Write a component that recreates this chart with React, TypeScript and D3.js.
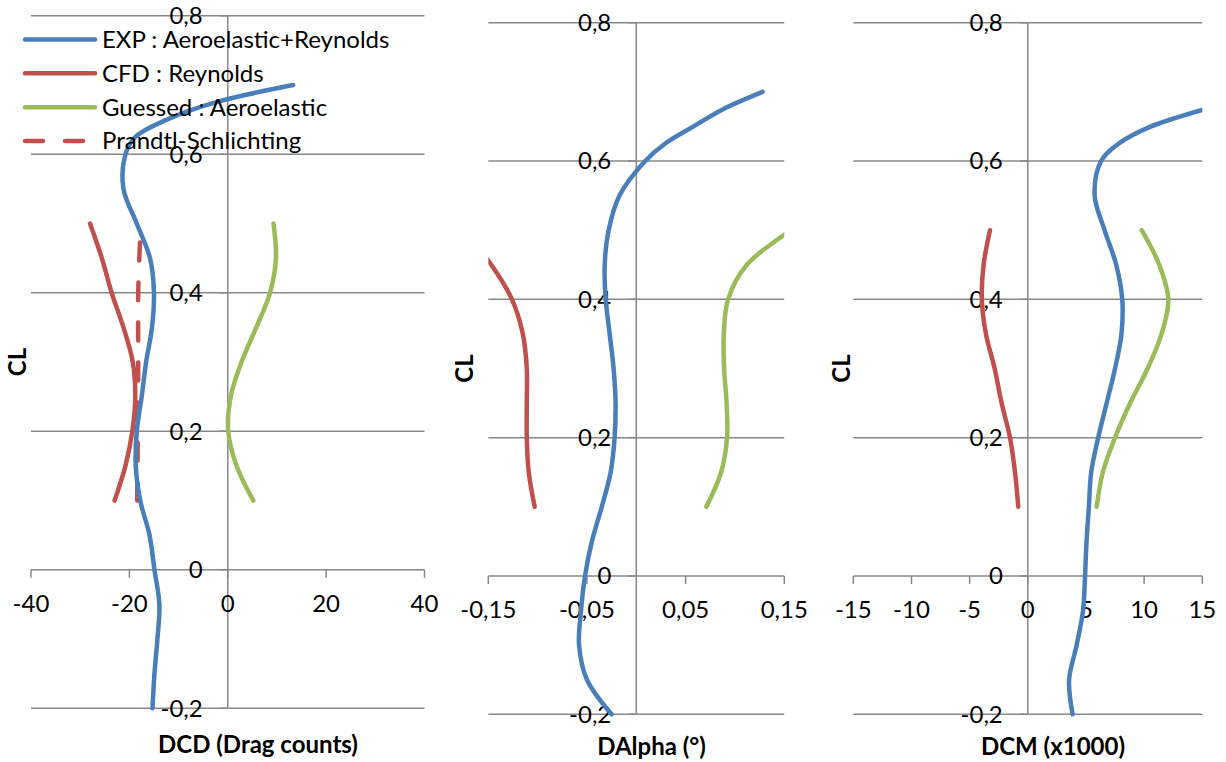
import React from 'react'
import * as d3 from 'd3'

// CL stations used for each curve
const clExp = [-0.2, -0.15, -0.1, -0.05, 0, 0.05, 0.1, 0.15, 0.2, 0.25, 0.3, 0.35, 0.4, 0.45, 0.5, 0.55, 0.6, 0.625, 0.65, 0.675, 0.7]
const clShort = [0.1, 0.15, 0.2, 0.25, 0.3, 0.35, 0.4, 0.45, 0.5]
const clPrandtl = [0.1, 0.2, 0.3, 0.4, 0.48]

// DCD (drag counts)
const dcdExp = [-15.3, -14.9, -14.3, -13.9, -14.9, -15.9, -17.8, -18.7, -18.5, -17.5, -16.6, -15.4, -15.0, -15.8, -18.5, -21.2, -20.8, -18.8, -12.4, -2.5, 13.3]
const dcdCfd = [-23.0, -20.8, -19.4, -18.8, -19.3, -21.2, -23.6, -25.6, -28.0]
const dcdGuess = [5.2, 1.8, 0.1, 0.6, 2.8, 5.8, 8.6, 9.8, 9.3]
const dcdPrandtl = [-18.4, -18.3, -18.2, -18.2, -17.8]

// DAlpha (deg)
const daExp = [-0.025, -0.05, -0.058, -0.056, -0.052, -0.045, -0.035, -0.026, -0.022, -0.021, -0.023, -0.027, -0.031, -0.032, -0.028, -0.017, 0.009, 0.029, 0.058, 0.088, 0.128]
const daCfd = [-0.103, -0.109, -0.111, -0.111, -0.111, -0.115, -0.126, -0.147, -0.175]
const daGuess = [0.071, 0.086, 0.092, 0.0915, 0.089, 0.0887, 0.093, 0.112, 0.157]

// DCM (x1000)
const dcmExp = [3.85, 3.55, 4.2, 4.75, 4.92, 5.05, 5.25, 5.45, 6.05, 6.78, 7.5, 8.05, 8.12, 7.6, 6.6, 5.75, 6.3, 7.8, 10.6, 15.2, 20.0]
const dcmCfd = [-0.82, -1.1, -1.53, -2.25, -2.85, -3.6, -3.95, -3.8, -3.25]
const dcmGuess = [5.92, 6.45, 7.5, 8.8, 10.3, 11.5, 12.08, 11.3, 9.79]

const clTicks = [-0.2, 0, 0.2, 0.4, 0.6, 0.8]
const dcdTicks = [-40, -20, 0, 20, 40]
const daTicks = [-0.15, -0.05, 0.05, 0.15]
const dcmTicks = [-15, -10, -5, 0, 5, 10, 15]

const legendNames = ['EXP : Aeroelastic+Reynolds', 'CFD : Reynolds', 'Guessed : Aeroelastic', 'Prandtl-Schlichting']

const BLUE = '#4a7ebb'
const RED = '#c0504d'
const GREEN = '#9bbb59'
const GRID = '#888888'
const FONT = 'Lato, "Open Sans", sans-serif'
const FS = 24

const fmt = (v: number) => String(+v.toFixed(3)).replace('.', ',')

type Series = { cl: number[], x: number[], color: string, dash?: string }

type PanelProps = {
  id: string
  left: number
  right: number
  top: number
  bottom: number
  xDomain: [number, number]
  xTicks: number[]
  series: Series[]
  title: string
  titleX: number
  titleY: number
  clX: number
}

function Panel(p: PanelProps) {
  const x = d3.scaleLinear().domain(p.xDomain).range([p.left, p.right])
  const y = d3.scaleLinear().domain([-0.2, 0.8]).range([p.bottom, p.top])
  const x0 = x(0)
  const y0 = y(0)

  const line = d3.line<[number, number]>()
    .x(d => x(d[0]))
    .y(d => y(d[1]))
    .curve(d3.curveCatmullRom.alpha(0.5))

  return (
    <g>
      <defs>
        <clipPath id={`clip-${p.id}`}>
          <rect x={p.left} y={p.top - 4} width={p.right - p.left} height={p.bottom - p.top + 8} />
        </clipPath>
      </defs>
      {clTicks.map(t => (
        <line key={`g${t}`} x1={p.left} x2={p.right} y1={y(t)} y2={y(t)} stroke={GRID} strokeWidth={1.5} />
      ))}
      <line x1={x0} x2={x0} y1={p.top} y2={p.bottom} stroke={GRID} strokeWidth={1.5} />
      {p.xTicks.map(t => (
        <line key={`t${t}`} x1={x(t)} x2={x(t)} y1={y0} y2={y0 + 8} stroke={GRID} strokeWidth={1.5} />
      ))}
      {clTicks.map(t => (
        <line key={`yt${t}`} x1={x0 - 8} x2={x0} y1={y(t)} y2={y(t)} stroke={GRID} strokeWidth={1.5} />
      ))}
      {clTicks.map(t => (
        <text key={`yl${t}`} x={x0 - 25} y={y(t)} dy="0.35em" textAnchor="end" fontSize={FS} fontFamily={FONT} fill="#000">
          {fmt(t)}
        </text>
      ))}
      {p.xTicks.map(t => (
        <text key={`xl${t}`} x={x(t)} y={y0 + 34} dy="0.35em" textAnchor="middle" fontSize={FS} fontFamily={FONT} fill="#000">
          {fmt(t)}
        </text>
      ))}
      <g clipPath={`url(#clip-${p.id})`}>
        {p.series.map((s, i) => (
          <path
            key={i}
            d={line(s.cl.map((c, k) => [s.x[k], c] as [number, number])) || ''}
            fill="none"
            stroke={s.color}
            strokeWidth={4.5}
            strokeLinecap="round"
            strokeLinejoin="round"
            strokeDasharray={s.dash}
          />
        ))}
      </g>
      <text x={p.titleX} y={p.titleY} dy="0.35em" textAnchor="middle" fontSize={FS} fontWeight="bold" fontFamily={FONT} fill="#000">
        {p.title}
      </text>
      <text
        transform={`translate(${p.clX}, ${(p.top + p.bottom) / 2}) rotate(-90)`}
        dy="0.35em"
        textAnchor="middle"
        fontSize={FS}
        fontWeight="bold"
        fontFamily={FONT}
        fill="#000"
      >
        CL
      </text>
    </g>
  )
}

export default function App() {
  const legendColors = [BLUE, RED, GREEN, RED]
  const legendY = d3.scaleLinear().domain([0, 3]).range([39.5, 141])

  return (
    <div style={{ position: 'absolute', left: 0, top: 0, background: '#fff' }}>
      <svg width={1226} height={762} style={{ display: 'block' }}>
        <rect width={1226} height={762} fill="#fff" />
        <Panel
          id="dcd"
          left={31}
          right={424.5}
          top={15.8}
          bottom={708.3}
          xDomain={[-40, 40]}
          xTicks={dcdTicks}
          series={[
            { cl: clShort, x: dcdCfd, color: RED },
            { cl: clShort, x: dcdGuess, color: GREEN },
            { cl: clPrandtl, x: dcdPrandtl, color: RED, dash: '18 22' },
            { cl: clExp, x: dcdExp, color: BLUE },
          ]}
          title="DCD (Drag counts)"
          titleX={258}
          titleY={745}
          clX={18}
        />
        <Panel
          id="da"
          left={488.3}
          right={784.3}
          top={22.7}
          bottom={714.3}
          xDomain={[-0.15, 0.15]}
          xTicks={daTicks}
          series={[
            { cl: clShort, x: daCfd, color: RED },
            { cl: clShort, x: daGuess, color: GREEN },
            { cl: clExp, x: daExp, color: BLUE },
          ]}
          title="DAlpha (°)"
          titleX={651.6}
          titleY={746.7}
          clX={465}
        />
        <Panel
          id="dcm"
          left={853.3}
          right={1202.3}
          top={22.7}
          bottom={714.3}
          xDomain={[-15, 15]}
          xTicks={dcmTicks}
          series={[
            { cl: clShort, x: dcmCfd, color: RED },
            { cl: clShort, x: dcmGuess, color: GREEN },
            { cl: clExp, x: dcmExp, color: BLUE },
          ]}
          title="DCM (x1000)"
          titleX={1053}
          titleY={746.7}
          clX={842}
        />
        {legendNames.map((name, i) => (
          <g key={name}>
            <line
              x1={25}
              x2={95}
              y1={legendY(i)}
              y2={legendY(i)}
              stroke={legendColors[i]}
              strokeWidth={4.5}
              strokeLinecap="round"
              strokeDasharray={i === 3 ? '18 22' : undefined}
            />
            <text x={102} y={legendY(i)} dy="0.35em" fontSize={FS} fontFamily={FONT} fill="#000">
              {name}
            </text>
          </g>
        ))}
      </svg>
    </div>
  )
}
